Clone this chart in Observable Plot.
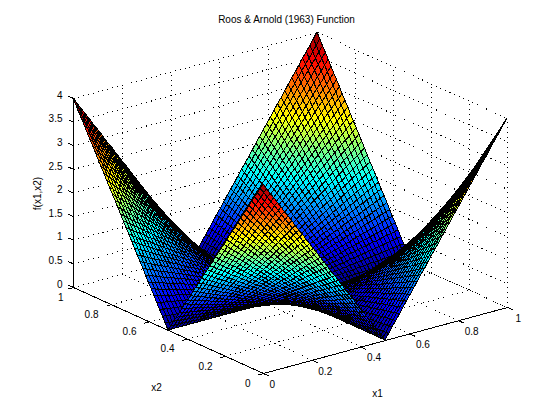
<!DOCTYPE html>
<html><head><meta charset="utf-8">
<script src="https://cdn.jsdelivr.net/npm/d3@7"></script>
<script src="https://cdn.jsdelivr.net/npm/@observablehq/plot@0.6"></script>
<style>html,body{margin:0;background:#fff}svg{display:block}</style>
</head><body><div id="chart"></div>
<script>
const title = "Roos & Arnold (1963) Function";
const x1Label = "x1", x2Label = "x2", zLabel = "f(x1,x2)";
const x1Ticks = [0, 0.2, 0.4, 0.6, 0.8, 1];
const x2Ticks = [0, 0.2, 0.4, 0.6, 0.8, 1];
const zTicks = [0, 0.5, 1, 1.5, 2, 2.5, 3, 3.5, 4];
const gridNodes = [0,.015,.029,.044,.059,.074,.088,.103,.118,.132,.147,.162,.176,.191,.206,.221,.235,.25,.265,.279,.294,.309,.324,.338,.353,.368,.382,.397,.412,.426,.441,.456,.471,.485,.5,.515,.529,.544,.559,.574,.588,.603,.618,.632,.647,.662,.676,.691,.706,.721,.735,.75,.765,.779,.794,.809,.824,.838,.853,.868,.882,.897,.912,.926,.941,.956,.971,.985,1];
// Surface heights by grid steps from the centre (larger step, smaller step); the surface mirrors about its centre and its diagonal.
const heightsFromCentre = [
[0],
[0,0],
[0,.01,.01],
[0,.01,.02,.03],
[0,.01,.03,.04,.06],
[0,.02,.03,.05,.07,.09],
[0,.02,.04,.06,.08,.10,.12],
[0,.02,.05,.07,.10,.12,.15,.17],
[0,.03,.06,.08,.11,.14,.17,.19,.22],
[0,.03,.06,.09,.12,.16,.19,.22,.25,.28],
[0,.03,.07,.10,.14,.17,.21,.24,.28,.31,.35],
[0,.04,.08,.11,.15,.19,.23,.27,.30,.34,.38,.42],
[0,.04,.08,.12,.17,.21,.25,.29,.33,.37,.42,.46,.50],
[0,.04,.09,.13,.18,.22,.27,.31,.36,.40,.45,.49,.54,.58],
[0,.05,.10,.15,.19,.24,.29,.34,.39,.44,.48,.53,.58,.63,.68],
[0,.05,.10,.16,.21,.26,.31,.36,.42,.47,.52,.57,.62,.67,.73,.78],
[0,.06,.11,.17,.22,.28,.33,.39,.44,.50,.55,.61,.66,.72,.78,.83,.89],
[0,.06,.12,.18,.24,.29,.35,.41,.47,.53,.59,.65,.71,.76,.82,.88,.94,1.00],
[0,.06,.12,.19,.25,.31,.37,.44,.50,.56,.62,.69,.75,.81,.87,.93,1.00,1.06,1.12],
[0,.07,.13,.20,.26,.33,.39,.46,.53,.59,.66,.72,.79,.85,.92,.99,1.05,1.12,1.18,1.25],
[0,.07,.14,.21,.28,.35,.42,.48,.55,.62,.69,.76,.83,.90,.97,1.04,1.11,1.18,1.25,1.31,1.38],
[0,.07,.15,.22,.29,.36,.44,.51,.58,.65,.73,.80,.87,.94,1.02,1.09,1.16,1.24,1.31,1.38,1.45,1.53],
[0,.08,.15,.23,.30,.38,.46,.53,.61,.69,.76,.84,.91,.99,1.07,1.14,1.22,1.29,1.37,1.45,1.52,1.60,1.67],
[0,.08,.16,.24,.32,.40,.48,.56,.64,.72,.80,.88,.95,1.03,1.11,1.19,1.27,1.35,1.43,1.51,1.59,1.67,1.75,1.83],
[0,.08,.17,.25,.33,.42,.50,.58,.66,.75,.83,.91,1.00,1.08,1.16,1.25,1.33,1.41,1.49,1.58,1.66,1.74,1.83,1.91,1.99],
[0,.09,.17,.26,.35,.43,.52,.61,.69,.78,.87,.95,1.04,1.12,1.21,1.30,1.38,1.47,1.56,1.64,1.73,1.82,1.90,1.99,2.08,2.16],
[0,.09,.18,.27,.36,.45,.54,.63,.72,.81,.90,.99,1.08,1.17,1.26,1.35,1.44,1.53,1.62,1.71,1.80,1.89,1.98,2.07,2.16,2.25,2.34],
[0,.09,.19,.28,.37,.47,.56,.65,.75,.84,.93,1.03,1.12,1.21,1.31,1.40,1.49,1.59,1.68,1.78,1.87,1.96,2.06,2.15,2.24,2.34,2.43,2.52],
[0,.10,.19,.29,.39,.48,.58,.68,.78,.87,.97,1.07,1.16,1.26,1.36,1.45,1.55,1.65,1.74,1.84,1.94,2.03,2.13,2.23,2.33,2.42,2.52,2.62,2.71],
[0,.10,.20,.30,.40,.50,.60,.70,.80,.90,1.00,1.10,1.20,1.30,1.40,1.51,1.61,1.71,1.81,1.91,2.01,2.11,2.21,2.31,2.41,2.51,2.61,2.71,2.81,2.91],
[0,.10,.21,.31,.42,.52,.62,.73,.83,.93,1.04,1.14,1.25,1.35,1.45,1.56,1.66,1.76,1.87,1.97,2.08,2.18,2.28,2.39,2.49,2.60,2.70,2.80,2.91,3.01,3.11],
[0,.11,.21,.32,.43,.54,.64,.75,.86,.97,1.07,1.18,1.29,1.39,1.50,1.61,1.72,1.82,1.93,2.04,2.15,2.25,2.36,2.47,2.57,2.68,2.79,2.90,3.00,3.11,3.22,3.33],
[0,.11,.22,.33,.44,.55,.66,.78,.89,1.00,1.11,1.22,1.33,1.44,1.55,1.66,1.77,1.88,1.99,2.10,2.21,2.33,2.44,2.55,2.66,2.77,2.88,2.99,3.10,3.21,3.32,3.43,3.54],
[0,.11,.23,.34,.46,.57,.69,.80,.91,1.03,1.14,1.26,1.37,1.48,1.60,1.71,1.83,1.94,2.06,2.17,2.28,2.40,2.51,2.63,2.74,2.85,2.97,3.08,3.20,3.31,3.43,3.54,3.65,3.77],
[0,.12,.24,.35,.47,.59,.71,.82,.94,1.06,1.18,1.29,1.41,1.53,1.65,1.76,1.88,2.00,2.12,2.24,2.35,2.47,2.59,2.71,2.82,2.94,3.06,3.18,3.29,3.41,3.53,3.65,3.76,3.88,4]
];
const jetStops = [0, 0.5, 1.5, 2.5, 3.5, 4];
const jetColors = ["#00008f", "#0000ff", "#00ffff", "#ffff00", "#ff0000", "#800000"];

// Orthographic camera: data (x1, x2, z) to picture coordinates.
const sx = (a, b) => 263 + 244 * a - 190 * b;
const sy = (a, b, z) => 373 - 66 * a - 86 * b - 47.25 * z;
const depth = (a, b, z) => -0.578 * a - 0.735 * b + 0.058 * z;

const mid = (gridNodes.length - 1) / 2;
const heightAt = (i, j) => {
  const p = Math.abs(i - mid), q = Math.abs(j - mid);
  return heightsFromCentre[Math.max(p, q)][Math.min(p, q)];
};

const cells = [];
for (let i = 0; i + 1 < gridNodes.length; i++) for (let j = 0; j + 1 < gridNodes.length; j++) {
  const [a0, a1, b0, b1] = [gridNodes[i], gridNodes[i + 1], gridNodes[j], gridNodes[j + 1]];
  const [z00, z10, z11, z01] = [heightAt(i, j), heightAt(i + 1, j), heightAt(i + 1, j + 1), heightAt(i, j + 1)];
  cells.push({
    id: i * 100 + j,
    v: (z00 + z10 + z11 + z01) / 4,
    d: depth((a0 + a1) / 2, (b0 + b1) / 2, (z00 + z10 + z11 + z01) / 4),
    ends: [
      {ax: sx(a0, b0), ay: sy(a0, b0, z00), bx: sx(a0, b1), by: sy(a0, b1, z01)},
      {ax: sx(a1, b0), ay: sy(a1, b0, z10), bx: sx(a1, b1), by: sy(a1, b1, z11)}
    ]
  });
}
cells.sort((p, q) => p.d - q.d);
const quads = cells.flatMap(c => c.ends.map(e => ({...e, id: c.id, v: c.v})));

// Polylines for the box: each carries a group id and 3D points projected to the picture.
const seg = (id, p, q) => [p, q].map(([a, b, z]) => ({id, x: sx(a, b), y: sy(a, b, z)}));
const grid = [], axes = [];
x1Ticks.forEach((t, k) => {
  grid.push(...seg("f1" + k, [t, 0, 0], [t, 1, 0]), ...seg("w1" + k, [t, 1, 0], [t, 1, 4]));
  axes.push(...seg("t1" + k, [t, 0, 0], [t, -0.025, 0]));
});
x2Ticks.forEach((t, k) => {
  grid.push(...seg("f2" + k, [0, t, 0], [1, t, 0]), ...seg("w2" + k, [1, t, 0], [1, t, 4]));
  axes.push(...seg("t2" + k, [0, t, 0], [-0.02, t, 0]));
});
zTicks.forEach((t, k) => {
  grid.push(...seg("zx" + k, [0, 1, t], [1, 1, t]), ...seg("zy" + k, [1, 1, t], [1, 0, t]));
  axes.push(...seg("tz" + k, [0, 1, t], [0, 1.025, t]));
});
axes.push(...seg("a1", [0, 0, 0], [1, 0, 0]), ...seg("a2", [0, 0, 0], [0, 1, 0]), ...seg("az", [0, 1, 0], [0, 1, 4]));

const fmt = t => String(t);
const chart = Plot.plot({
  width: 560, height: 420, margin: 0,
  x: {domain: [0, 560], range: [0, 560], axis: null},
  y: {domain: [0, 420], range: [0, 420], axis: null},
  color: {type: "linear", domain: jetStops, range: jetColors, interpolate: "rgb"},
  style: {fontFamily: "Liberation Sans", fontSize: "10px", background: "#fff", color: "#000"},
  marks: [
    Plot.line(grid, {x: "x", y: "y", z: "id", stroke: "#000", strokeWidth: 1, strokeDasharray: "1 4", strokeLinecap: "butt", shapeRendering: "crispEdges"}),
    Plot.line(axes, {x: "x", y: "y", z: "id", stroke: "#000", strokeWidth: 1, shapeRendering: "crispEdges"}),
    Plot.area(quads, {x1: "ax", y1: "ay", x2: "bx", y2: "by", z: "id", fill: "v", stroke: "#000", strokeWidth: 1, shapeRendering: "crispEdges"}),
    Plot.text(x1Ticks, {x: t => sx(t, 0) + (t === 1 ? 8 : 6), y: t => sy(t, 0, 0) + 11, text: fmt, textAnchor: "start", fill: "#000"}),
    Plot.text(x2Ticks, {x: t => sx(0, t) - (t === 1 ? 10 : 13), y: t => sy(0, t, 0) + 10, text: fmt, textAnchor: "end", fill: "#000"}),
    Plot.text(zTicks, {x: () => 62, y: t => sy(0, 1, t) - 3, text: fmt, textAnchor: "end", fill: "#000"}),
    Plot.text([title], {x: () => 286, y: () => 19, text: d => d, textAnchor: "middle", fill: "#000"}),
    Plot.text([x1Label], {x: () => 377, y: () => 393, text: d => d, fill: "#000"}),
    Plot.text([x2Label], {x: () => 156, y: () => 387, text: d => d, fill: "#000"}),
    Plot.text([zLabel], {x: () => 37, y: () => 193, text: d => d, rotate: -90, fill: "#000"})
  ]
});
document.getElementById("chart").append(chart);
</script>
</body></html>
